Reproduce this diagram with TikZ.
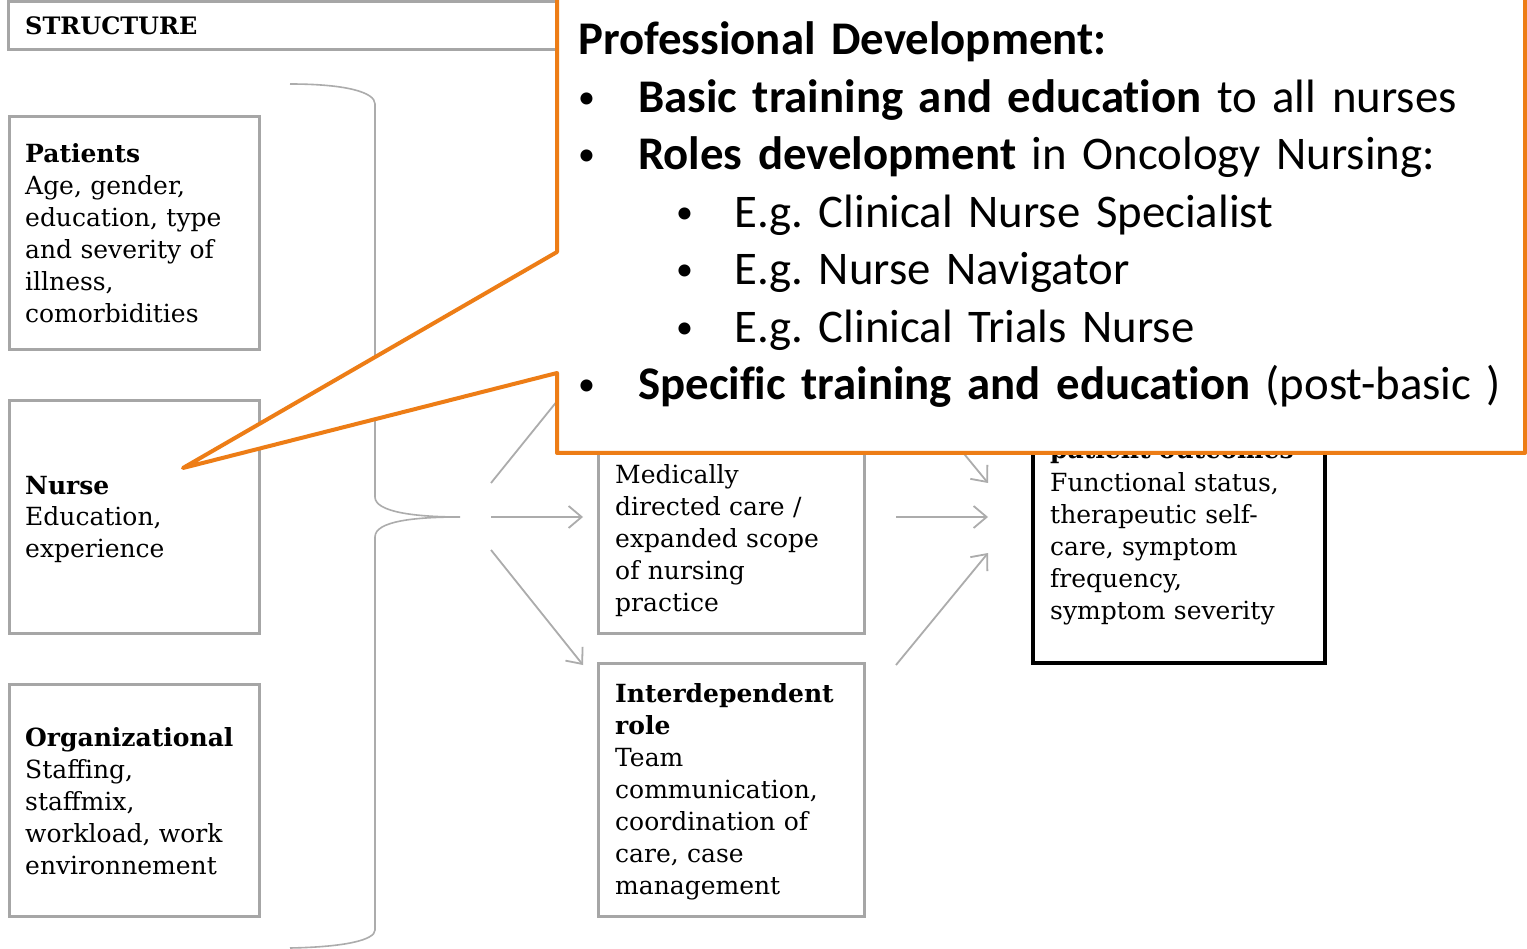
\documentclass[tikz,border=0pt]{standalone}
\usepackage{fontspec}
\setmainfont{DejaVu Serif}
\newfontfamily\calloutfont[Ligatures=NoCommon]{Carlito}
\usepackage{tikz}
\usetikzlibrary{positioning}
\usetikzlibrary{arrows.meta}
\definecolor{boxgray}{RGB}{166,166,166}
\definecolor{arrowgray}{RGB}{172,172,172}
\definecolor{calloutorange}{RGB}{237,125,22}
\newcommand{\dotmark}{\raisebox{4pt}{\fontsize{34}{34}\selectfont\textbullet}}
\tikzset{basic/.style={draw=boxgray,line width=3pt,fill=white,rectangle,anchor=north west,outer sep=0pt}}
\tikzset{factor/.style={basic,minimum width=250pt,minimum height=233pt}}
\tikzset{role/.style={basic,minimum width=266pt}}
\tikzset{outcome/.style={basic,draw=black,line width=3.5pt,minimum width=292pt,minimum height=292pt}}
\tikzset{boxtext/.style={anchor=base west,inner sep=0pt,text width=260pt,align=left,font=\fontsize{25}{32}\selectfont}}
\tikzset{flow/.style={draw=arrowgray,line width=1.8pt,-{Straight Barb[length=13pt,width=22pt]}}}
\tikzset{callout/.style={draw=calloutorange,line width=4pt,fill=white,line join=round}}

\begin{document}
\frenchspacing
\begin{tikzpicture}[x=1pt,y=-1pt]
        \useasboundingbox[fill=white] (0,0) rectangle (1527,949);
        % structure column
        \node[basic,minimum width=600pt,minimum height=48pt] (structure) at (8,2) {};
        \node[boxtext,font=\fontsize{24}{32}\selectfont\bfseries] (structuretxt) at (25,35) {STRUCTURE};
        \node[factor] (patients) at (9,117) {};
        \node[boxtext] (patientstxt) at ([shift={(16pt,-46pt)}]patients.north west)
            {\textbf{Patients}\\Age, gender,\\education, type\\and severity of\\illness,\\comorbidities};
        \node[factor,minimum height=232pt] (nurse) at (9,401) {};
        \node[boxtext] (nursetxt) at ([shift={(16pt,-93pt)}]nurse.north west)
            {\textbf{Nurse}\\Education,\\experience};
        \node[factor,minimum height=232pt] (organizational) at (9,684) {};
        \node[boxtext] (organizationaltxt) at ([shift={(16pt,-62pt)}]organizational.north west)
            {\textbf{Organizational}\\Staffing,\\staffmix,\\workload, work\\environnement};
        % process column
        \node[role,minimum height=232pt] (dependent) at (598,401) {};
        \node[boxtext] (dependenttxt) at ([shift={(17pt,-83pt)}]dependent.north west)
            {Medically\\directed care /\\expanded scope\\of nursing\\practice};
        \node[role,minimum height=253pt] (interdependent) at (598,663) {};
        \node[boxtext] (interdependenttxt) at ([shift={(17pt,-39pt)}]interdependent.north west)
            {\textbf{Interdependent}\\\textbf{role}\\Team\\communication,\\coordination of\\care, case\\management};
        % outcome column
        \node[outcome] (outcomes) at (1033,371) {};
        \node[boxtext] (outcomestxt) at ([shift={(17pt,-88pt)}]outcomes.north west)
            {\textbf{patient outcomes}\\[1pt]Functional status,\\therapeutic self-\\care, symptom\\frequency,\\symptom severity};
        % brace and arrows
        \coordinate (tip) at (460,517);
        \draw[draw=arrowgray,line width=1.6pt] (290,84) .. controls (345,84) and (375,92) .. (375,104)
            -- (375,497) .. controls (375,512) and (415,517) .. (tip)
            .. controls (415,517) and (375,521) .. (375,537)
            -- (375,930) .. controls (375,940) and (345,947) .. (290,948);
        \coordinate (s1) at (491,483);
        \coordinate (s2) at (491,517);
        \coordinate (s3) at (491,550);
        \coordinate (indepin) at (583,369);
        \coordinate (indepout) at (896,371);
            \path[flow] (s1) -- (indepin);
            \path[flow] (s2) -- ([xshift=-15pt]dependent.west);
            \path[flow] (s3) -- ([shift={(-15pt,-2pt)}]interdependent.north west);
            \path[flow] (indepout) -- ([shift={(-45pt,34pt)}]outcomes.west);
            \path[flow] ([xshift=32pt]dependent.east) -- ([xshift=-45pt]outcomes.west);
            \path[flow] ([shift={(32pt,-2pt)}]interdependent.north east) -- ([shift={(-45pt,-36pt)}]outcomes.west);
        % callout
        \draw[callout] (557,-10) -- (557,252) -- (183,468) -- (557,373) -- (557,453)
            -- (1525,453) -- (1525,-10) -- cycle;
        \node[anchor=base west,inner sep=0pt,text width=960pt,align=left,
            font=\calloutfont\fontsize{46.8}{57.5}\selectfont] (development) at (578,55)
            {\textbf{Professional Development:}\\
             \makebox[60pt][l]{\dotmark}\textbf{Basic training and education} to all nurses\\
             \makebox[60pt][l]{\dotmark}\textbf{Roles development} in Oncology Nursing:\\
             \hspace*{98pt}\makebox[58pt][l]{\dotmark}E.g. Clinical Nurse Specialist\\
             \hspace*{98pt}\makebox[58pt][l]{\dotmark}E.g. Nurse Navigator\\
             \hspace*{98pt}\makebox[58pt][l]{\dotmark}E.g. Clinical Trials Nurse\\
             \makebox[60pt][l]{\dotmark}\textbf{Specific training and education} (post-basic )};
    \end{tikzpicture}
\end{document}
